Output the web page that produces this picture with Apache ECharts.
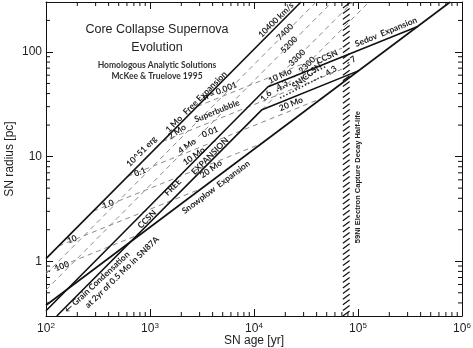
<!DOCTYPE html>
<html>
<head>
<meta charset="utf-8">
<script src="https://cdn.jsdelivr.net/npm/echarts@6/dist/echarts.min.js"></script>
<style>
html,body{margin:0;padding:0;background:#fff}
#chart{width:473px;height:348px}
</style>
</head>
<body>
<div id="chart"></div>
<script>
// tracks as [age yr, radius pc], end points and kinks
const freeExp1Mo = [[100, 1.06], [28300, 300]];
const ccsn10Mo = [[100, 0.337], [13650, 46.5], [375000, 175]];
const ccsn20Mo = [[127, 0.3], [11940, 28.1], [102000, 66.3]];
const snowplow = [[100, 0.38], [770000, 300]];
// free expansion velocities (dashed)
const vel7400 = [[100, 0.757], [39600, 300]];
const vel5200 = [[100, 0.532], [56400, 300]];
const vel3300 = [[13650, 46.5], [88900, 300]];
const vel2300 = [[11940, 28.1], [127500, 300]];
// sedov tracks for ambient density n (dashed)
const sedovN100 = [[100, 0.789], [830, 1.84]];
const sedovN10 = [[132, 1.40], [3155, 4.97]];
const sedovN1 = [[284, 3.01], [11970, 13.4]];
const sedovN01 = [[611, 6.48], [45500, 36.3]];
const sedovN001 = [[1317, 13.96], [70000, 68.4]];
const sedovN0001 = [[2838, 30.1], [70000, 108.5]];
// asterisk rows between the two sedov branches
const starsUpper = [[16600, 42.4], [50400, 73.5]];
const starsLower = [[17800, 36.3], [46000, 58.9]];
// 59Ni half-life band
const niBand = [70000, 85000];

const xMajor = [100, 1000, 10000, 100000, 1000000];
const yMajor = [1, 10, 100];

// text along the tracks: [age, radius, text, angle deg]
const notes = [
  [830, 11.2, '10^51 erg', 45],
  [1700, 20.5, '1 Mo', 45],
  [3380, 40.5, 'Free Expansion', 45],
  [16300, 202, '10400 km/s', 45],
  [4710, 42.3, 'n = 0.001', 22],
  [4405, 27.2, 'Superbubble', 22],
  [1820, 17.2, '2 Mo', 35],
  [2270, 12.6, '4 Mo', 35],
  [3776, 17.2, '0.01', 22],
  [2650, 10.1, '10 Mo', 35],
  [801, 7.11, '0.1', 22],
  [394, 3.5, '1.0', 22],
  [178, 1.62, '10', 22],
  [142, 0.896, '100', 22],
  [935, 2.52, 'CCSN', 45],
  [1664, 5.1, 'FREE', 45],
  [3776, 10.1, 'EXPANSION', 45],
  [3860, 7.59, '20 Mo', 35],
  [4310, 5.1, 'Snowplow  Expansion', 37],
  [309, 0.63, '\u2190 Grain Condensation', 43],
  [538, 0.785, 'at 2yr of 0.5 Mo in SN87A', 44],
  [13040, 37.9, '1.6', 45],
  [19860, 155, '7400', 45],
  [21700, 117, '5200', 45],
  [25900, 87.7, '3300', 45],
  [32300, 75, '2300', 45],
  [17800, 58.9, '10 Mo', 25],
  [50400, 89.6, 'CCSN', 25],
  [22700, 31.8, '20 Mo', 22],
  [18600, 48.3, '4.3', 35],
  [32300, 58.9, 'SN(CCSN', 40],
  [55000, 65.8, '4.3', 35],
  [85700, 82, '- 7', 35],
  [186000, 155, 'Sedov  Expansion', 22]
];

const xMinor = [];
for (let d = 100; d < 1000000; d *= 10) {
  for (let k = 2; k <= 9; k++) xMinor.push(k * d);
}
const yMinor = [];
for (let d = 0.1; d < 300; d *= 10) {
  for (let k = 2; k <= 9; k++) {
    const v = +(k * d).toPrecision(3);
    if (v > 0.3 && v < 300) yMinor.push(v);
  }
}

const solid = (data) => ({
  type: 'line', data: data, showSymbol: false, silent: true,
  lineStyle: {color: '#111', width: 1.6}
});
const dashed = (data) => ({
  type: 'line', data: data, showSymbol: false, silent: true,
  lineStyle: {color: '#8a8a8a', width: 1, type: [5, 4]}
});

const boxAxis = {
  type: 'log', logBase: 10,
  axisLine: {show: true, lineStyle: {color: '#111', width: 1}},
  axisTick: {show: true, inside: true, length: 7, lineStyle: {color: '#111'}},
  splitLine: {show: false}
};

const chart = echarts.init(document.getElementById('chart'), null, {renderer: 'canvas'});

const option = {
  animation: false,
  grid: {left: 46, right: 11, top: 2, bottom: 32, containLabel: false, outerBoundsMode: 'none'},
  graphic: [
    {type: 'text', x: 157, y: 30, style: {text: 'Core Collapse Supernova', fill: '#222', font: '12.5px "Liberation Sans", Arial', align: 'center', verticalAlign: 'middle'}},
    {type: 'text', x: 157, y: 48, style: {text: 'Evolution', fill: '#222', font: '12.5px "Liberation Sans", Arial', align: 'center', verticalAlign: 'middle'}},
    {type: 'text', x: 157, y: 65, style: {text: 'Homologous Analytic Solutions', fill: '#333', font: 'bold 8.5px Lato', align: 'center', verticalAlign: 'middle'}},
    {type: 'text', x: 157, y: 76, style: {text: 'McKee & Truelove 1995', fill: '#333', font: 'bold 8.5px Lato', align: 'center', verticalAlign: 'middle'}}
  ],
  xAxis: [
    Object.assign({}, boxAxis, {
      min: xMajor[0], max: xMajor[xMajor.length - 1], position: 'bottom',
      name: 'SN age [yr]', nameLocation: 'middle', nameGap: 19, nameMoveOverlap: false,
      nameTextStyle: {color: '#222', fontSize: 12, fontFamily: 'Liberation Sans'},
      axisLabel: {
        margin: 6, color: '#222',
        formatter: (v) => '{b|10}{s|' + Math.round(Math.log10(v)) + '}',
        rich: {
          b: {fontSize: 12, fontFamily: 'Liberation Sans', color: '#222', lineHeight: 14},
          s: {fontSize: 8, fontFamily: 'Liberation Sans', color: '#222', verticalAlign: 'top', lineHeight: 14}
        }
      }
    }),
    Object.assign({}, boxAxis, {
      min: xMajor[0], max: xMajor[xMajor.length - 1], position: 'top',
      axisLabel: {show: false}
    })
  ],
  yAxis: [
    Object.assign({}, boxAxis, {
      min: 0.3, max: 300, position: 'left',
      name: 'SN radius [pc]', nameLocation: 'middle', nameGap: 30, nameMoveOverlap: false,
      nameTextStyle: {color: '#222', fontSize: 12, fontFamily: 'Liberation Sans'},
      axisLabel: {
        margin: 4, color: '#222', fontSize: 12, fontFamily: 'Liberation Sans',
        showMinLabel: false, showMaxLabel: false,
        formatter: (v) => (yMajor.indexOf(+v) >= 0 ? String(v) : '')
      }
    }),
    Object.assign({}, boxAxis, {
      min: 0.3, max: 300, position: 'right',
      axisLabel: {show: false}
    })
  ],
  series: [
    // hatched 59Ni band
    {
      type: 'custom', silent: true,
      data: [[niBand[0], 1, niBand[1]]],
      encode: {x: 0, y: 1},
      renderItem: (params, api) => {
        const cs = params.coordSys;
        const x0 = api.coord([api.value(0), 1])[0];
        const x1 = api.coord([api.value(2), 1])[0];
        const kids = [];
        for (let y = cs.y + 1; y < cs.y + cs.height - 4; y += 5.6) {
          kids.push({type: 'line', shape: {x1: x0 + 1, y1: y + 5, x2: x1 - 1, y2: y},
            style: {stroke: '#111', lineWidth: 1.2}});
        }
        return {type: 'group', children: kids};
      }
    },
    dashed(vel7400), dashed(vel5200), dashed(vel3300), dashed(vel2300),
    dashed(sedovN100), dashed(sedovN10), dashed(sedovN1),
    dashed(sedovN01), dashed(sedovN001), dashed(sedovN0001),
    solid(freeExp1Mo), solid(ccsn10Mo), solid(ccsn20Mo), solid(snowplow),
    {type: 'line', data: starsUpper, showSymbol: false, silent: true,
      lineStyle: {color: '#333', width: 1.6, type: [1.5, 2]}},
    {type: 'line', data: starsLower, showSymbol: false, silent: true,
      lineStyle: {color: '#333', width: 1.6, type: [1.5, 2]}},
    // minor ticks, bottom and top
    {
      type: 'custom', silent: true,
      data: xMinor.map((v) => [v, 1]),
      renderItem: (params, api) => {
        const cs = params.coordSys;
        const x = api.coord([api.value(0), 1])[0];
        const b = cs.y + cs.height;
        return {type: 'group', children: [
          {type: 'line', shape: {x1: x, y1: b, x2: x, y2: b - 4}, style: {stroke: '#111', lineWidth: 1}},
          {type: 'line', shape: {x1: x, y1: cs.y, x2: x, y2: cs.y + 4}, style: {stroke: '#111', lineWidth: 1}}
        ]};
      }
    },
    // minor ticks, left and right
    {
      type: 'custom', silent: true,
      data: yMinor.map((v) => [1000, v]),
      renderItem: (params, api) => {
        const cs = params.coordSys;
        const y = api.coord([1000, api.value(1)])[1];
        const r = cs.x + cs.width;
        return {type: 'group', children: [
          {type: 'line', shape: {x1: cs.x, y1: y, x2: cs.x + 4, y2: y}, style: {stroke: '#111', lineWidth: 1}},
          {type: 'line', shape: {x1: r, y1: y, x2: r - 4, y2: y}, style: {stroke: '#111', lineWidth: 1}}
        ]};
      }
    },
    // labels along the tracks
    {
      type: 'custom', silent: true,
      data: notes.map((n) => [n[0], n[1]]),
      renderItem: (params, api) => {
        const n = notes[params.dataIndex];
        const p = api.coord([n[0], n[1]]);
        return {type: 'text', x: p[0], y: p[1], rotation: n[3] * Math.PI / 180,
          style: {text: n[2], fill: '#222', font: 'bold 8.5px Lato', align: 'center', verticalAlign: 'middle'}};
      }
    },
    // 59Ni caption
    {
      type: 'custom', silent: true,
      data: [[100000, 6.37]],
      renderItem: (params, api) => {
        const p = api.coord([api.value(0), api.value(1)]);
        return {type: 'text', x: p[0], y: p[1], rotation: Math.PI / 2,
          style: {text: '59Ni Electron Capture Decay Half-life', fill: '#222', font: 'bold 7.5px "Liberation Sans"', align: 'center', verticalAlign: 'middle'}};
      }
    }
  ]
};

chart.setOption(option);
</script>
</body>
</html>
